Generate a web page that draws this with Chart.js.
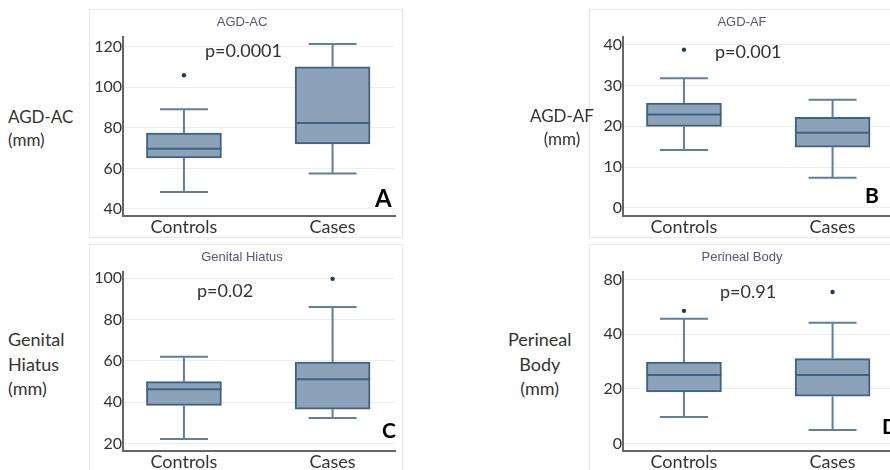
<!DOCTYPE html>
<html>
<head>
<meta charset="utf-8">
<script src="https://cdn.jsdelivr.net/npm/chart.js@4.4.1/dist/chart.umd.min.js"></script>
<style>
    body { margin: 0; width: 890px; height: 470px; overflow: hidden; background: #fff; position: relative; font-family: Lato, sans-serif; color: #333; }
    .frame { position: absolute; width: 314px; height: 229px; border: 1px solid #e4e9ee; box-sizing: border-box; }
    .panel { position: absolute; }
    .txt { position: absolute; white-space: nowrap; }
    .ylab { font-size: 17px; line-height: 23px; }
    .ylab2 { font-size: 18px; line-height: 24.5px; }
    .pval { font-size: 18px; line-height: 18px; }
    .letter { font-size: 21px; line-height: 21px; font-weight: bold; color: #000; }
</style>
</head>
<body>
<div class="frame" style="left:89px;top:9px"></div>
<div class="frame" style="left:589px;top:9px"></div>
<div class="frame" style="left:89px;top:244px"></div>
<div class="frame" style="left:589px;top:244px"></div>

<canvas id="chartAC" class="panel" width="314" height="229" style="left:89px;top:9px"></canvas>
<canvas id="chartAF" class="panel" width="314" height="229" style="left:589px;top:9px"></canvas>
<canvas id="chartGH" class="panel" width="314" height="229" style="left:89px;top:244px"></canvas>
<canvas id="chartPB" class="panel" width="314" height="229" style="left:589px;top:244px"></canvas>

<div class="txt ylab" style="left:8px;top:105px">AGD-AC<br>(mm)</div>
<div class="txt ylab" style="left:530px;top:104px;text-align:center">AGD-AF<br>(mm)</div>
<div class="txt ylab2" style="left:8px;top:327px">Genital<br>Hiatus<br>(mm)</div>
<div class="txt ylab2" style="left:508px;top:327px;text-align:center">Perineal<br>Body<br>(mm)</div>

<div class="txt pval" style="left:205px;top:41px">p=0.0001</div>
<div class="txt pval" style="left:715px;top:42px">p=0.001</div>
<div class="txt pval" style="left:197px;top:281px">p=0.02</div>
<div class="txt pval" style="left:720px;top:282px">p=0.91</div>

<div class="txt letter" style="left:375px;top:186px;font-size:24px;line-height:24px">A</div>
<div class="txt letter" style="left:865px;top:184px">B</div>
<div class="txt letter" style="left:382px;top:419px">C</div>
<div class="txt letter" style="left:882px;top:415px">D</div>

<script>
const groups = ['Controls', 'Cases'];

// AGD-AC (mm)
const acMin = [48.4, 57.5];
const acQ1 = [65.2, 72.1];
const acMed = [69.7, 82.4];
const acQ3 = [77.4, 110.1];
const acMax = [89.2, 121.3];
const acOut = [[105.9], []];
const acTicks = [40, 60, 80, 100, 120];

// AGD-AF (mm)
const afMin = [14.2, 7.4];
const afQ1 = [20.0, 14.9];
const afMed = [22.9, 18.4];
const afQ3 = [25.7, 22.2];
const afMax = [31.8, 26.5];
const afOut = [[38.8], []];
const afTicks = [0, 10, 20, 30, 40];

// Genital Hiatus (mm)
const ghMin = [22.1, 32.3];
const ghQ1 = [38.4, 36.6];
const ghMed = [46.2, 51.0];
const ghQ3 = [49.9, 59.4];
const ghMax = [62.0, 86.1];
const ghOut = [[], [99.7]];
const ghTicks = [20, 40, 60, 80, 100];

// Perineal Body (mm) - axis is labelled 0, 20, 40, 80 at equal steps
const pbMin = [9.7, 4.9];
const pbQ1 = [18.9, 17.3];
const pbMed = [25.1, 25.1];
const pbQ3 = [29.8, 31.1];
const pbMax = [45.7, 44.2];
const pbOut = [[48.6], [55.5]];
const pbTicks = [0, 20, 40, 60];
const pbTickLabels = ['0', '20', '40', '80'];

const boxFill = '#8ca2b8';
const boxLine = '#3f6284';
const whiskerColor = '#5f7f9d';
const axisColor = '#666';
const gridColor = '#e8eef3';

function boxChart(id, title, st, yMin, yMax, ticks, tickLabels) {
    const whiskers = {
        id: 'whiskers',
        afterDatasetsDraw(chart) {
            const ctx = chart.ctx;
            const y = chart.scales.y;
            const bars = chart.getDatasetMeta(0).data;
            ctx.save();
            ctx.lineWidth = 2;
            bars.forEach((bar, i) => {
                const cx = bar.x;
                const capW = 24;
                const yMaxP = y.getPixelForValue(st.max[i]);
                const yMinP = y.getPixelForValue(st.min[i]);
                ctx.strokeStyle = whiskerColor;
                ctx.beginPath();
                ctx.moveTo(cx, y.getPixelForValue(st.q3[i]));
                ctx.lineTo(cx, yMaxP);
                ctx.moveTo(cx - capW, yMaxP);
                ctx.lineTo(cx + capW, yMaxP);
                ctx.moveTo(cx, y.getPixelForValue(st.q1[i]));
                ctx.lineTo(cx, yMinP);
                ctx.moveTo(cx - capW, yMinP);
                ctx.lineTo(cx + capW, yMinP);
                ctx.stroke();
                const ym = y.getPixelForValue(st.med[i]);
                ctx.strokeStyle = boxLine;
                ctx.beginPath();
                ctx.moveTo(cx - bar.width / 2, ym);
                ctx.lineTo(cx + bar.width / 2, ym);
                ctx.stroke();
            });
            ctx.restore();
        }
    };

    const outliers = [];
    st.out.forEach((vals, i) => vals.forEach(v => outliers.push({ x: i, y: v })));

    return new Chart(document.getElementById(id).getContext('2d'), {
        type: 'bar',
        data: {
            datasets: [{
                data: groups.map((g, i) => ({ x: i, y: [st.q1[i], st.q3[i]] })),
                backgroundColor: boxFill,
                borderColor: boxLine,
                borderWidth: 2,
                borderSkipped: false,
                barThickness: 75
            }, {
                type: 'scatter',
                data: outliers,
                pointRadius: 2.2,
                pointBackgroundColor: '#1d3b5c',
                pointBorderWidth: 0
            }]
        },
        options: {
            responsive: false,
            animation: false,
            layout: { padding: { left: 0, right: 8, top: 0, bottom: 0 } },
            plugins: {
                legend: { display: false },
                tooltip: { enabled: false },
                title: {
                    display: true,
                    text: title,
                    color: '#56567a',
                    font: { family: 'Liberation Sans', size: 13, weight: 'normal' },
                    padding: { top: 6, bottom: 6 }
                }
            },
            scales: {
                x: {
                    type: 'linear',
                    min: -0.41,
                    max: 1.42,
                    offset: false,
                    afterBuildTicks: s => { s.ticks = groups.map((g, i) => ({ value: i })); },
                    afterFit: s => { s.height = 22; },
                    grid: { display: false, drawTicks: false },
                    border: { color: axisColor, width: 2 },
                    ticks: {
                        callback: v => groups[v],
                        color: '#333',
                        font: { family: 'Lato', size: 18 },
                        padding: 0,
                        maxRotation: 0,
                        autoSkip: false
                    }
                },
                y: {
                    min: yMin,
                    max: yMax,
                    afterBuildTicks: s => { s.ticks = ticks.map(v => ({ value: v })); },
                    afterFit: s => { s.width = 34; },
                    grid: { color: gridColor, drawTicks: false },
                    border: { color: axisColor, width: 2 },
                    ticks: {
                        callback: (v, i) => tickLabels[i],
                        color: '#333',
                        font: { family: 'Lato', size: 16 },
                        padding: 1
                    }
                }
            }
        },
        plugins: [whiskers]
    });
}

document.addEventListener('DOMContentLoaded', (event) => {
    boxChart('chartAC', 'AGD-AC',
        { min: acMin, q1: acQ1, med: acMed, q3: acQ3, max: acMax, out: acOut },
        36.5, 125, acTicks, acTicks.map(String));
    boxChart('chartAF', 'AGD-AF',
        { min: afMin, q1: afQ1, med: afMed, q3: afQ3, max: afMax, out: afOut },
        -2, 42, afTicks, afTicks.map(String));
    boxChart('chartGH', 'Genital Hiatus',
        { min: ghMin, q1: ghQ1, med: ghMed, q3: ghQ3, max: ghMax, out: ghOut },
        16.3, 103.2, ghTicks, ghTicks.map(String));
    boxChart('chartPB', 'Perineal Body',
        { min: pbMin, q1: pbQ1, med: pbMed, q3: pbQ3, max: pbMax, out: pbOut },
        -2.8, 63, pbTicks, pbTickLabels);
});
</script>
</body>
</html>
